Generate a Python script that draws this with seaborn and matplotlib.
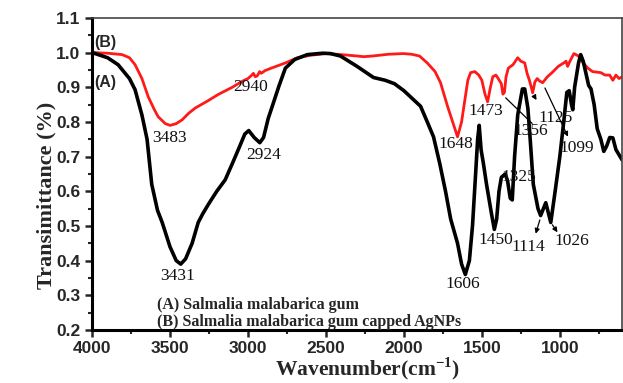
import numpy as np
import pandas as pd
import matplotlib
matplotlib.use("Agg")
import matplotlib.pyplot as plt
import seaborn as sns
from matplotlib.ticker import MultipleLocator

# ---- data ----
wn_a = [4000, 3900, 3833, 3760, 3724, 3680, 3647, 3617, 3580, 3550, 3500, 3460, 3431, 3400,
        3358, 3319, 3290, 3250, 3200, 3146, 3100, 3062, 3020, 2995, 2960, 2924, 2900, 2870,
        2844, 2800, 2760, 2700, 2619, 2520, 2471, 2407, 2300, 2195, 2120, 2060, 2000, 1938,
        1893, 1850, 1810, 1770, 1733, 1700, 1656, 1630, 1606, 1580, 1560, 1540, 1527, 1517,
        1505, 1490, 1470, 1440, 1420, 1405, 1390, 1375, 1350, 1335, 1318, 1305, 1290, 1270,
        1240, 1225, 1205, 1190, 1170, 1140, 1123, 1090, 1058, 1030, 1000, 975, 955, 940, 925,
        917, 905, 880, 866, 850, 830, 815, 800, 780, 760, 737, 718, 700, 680, 660, 640, 600]
tr_a = [1.0, 0.985, 0.965, 0.925, 0.893, 0.82, 0.75, 0.62, 0.545, 0.51, 0.44, 0.40, 0.39, 0.405,
        0.45, 0.51, 0.535, 0.565, 0.60, 0.633, 0.68, 0.72, 0.765, 0.775, 0.755, 0.74, 0.755, 0.81,
        0.845, 0.905, 0.955, 0.98, 0.994, 0.998, 0.997, 0.99, 0.96, 0.928, 0.92, 0.91, 0.89, 0.864,
        0.845, 0.80, 0.757, 0.68, 0.60, 0.52, 0.45, 0.39, 0.36, 0.40, 0.50, 0.65, 0.75, 0.79,
        0.72, 0.68, 0.62, 0.54, 0.49, 0.52, 0.60, 0.64, 0.65, 0.63, 0.58, 0.575, 0.70, 0.82,
        0.895, 0.895, 0.84, 0.75, 0.62, 0.55, 0.53, 0.567, 0.51, 0.60, 0.70, 0.80, 0.885, 0.89, 0.85,
        0.835, 0.90, 0.97, 0.994, 0.975, 0.935, 0.905, 0.895, 0.85, 0.78, 0.75, 0.715, 0.73, 0.755, 0.754, 0.72, 0.69]

wn_b = [4000, 3900, 3807, 3760, 3724, 3680, 3640, 3600, 3576, 3530, 3499, 3460, 3422, 3380,
        3338, 3260, 3191, 3100, 3037, 3000, 2975, 2965, 2953, 2940, 2925, 2915, 2890, 2850,
        2760, 2683, 2600, 2500, 2400, 2300, 2259, 2200, 2100, 2003, 1950, 1900, 1850, 1800,
        1765, 1720, 1680, 1656, 1630, 1610, 1590, 1572, 1545, 1520, 1500, 1480, 1463, 1445,
        1430, 1410, 1395, 1375, 1365, 1355, 1345, 1330, 1300, 1270, 1250, 1225, 1210, 1195,
        1180, 1174, 1160, 1145, 1130, 1110, 1080, 1050, 1010, 975, 960, 950, 935, 910, 880,
        850, 820, 790, 737, 710, 680, 660, 640, 620, 600]
tr_b = [1.0, 0.998, 0.994, 0.985, 0.965, 0.925, 0.873, 0.835, 0.815, 0.795, 0.79, 0.795, 0.806, 0.825,
        0.84, 0.86, 0.879, 0.90, 0.917, 0.925, 0.935, 0.94, 0.93, 0.933, 0.945, 0.94, 0.948, 0.955,
        0.97, 0.985, 0.992, 0.997, 0.994, 0.99, 0.988, 0.99, 0.995, 0.997, 0.995, 0.99, 0.97, 0.945,
        0.913, 0.845, 0.79, 0.757, 0.80, 0.86, 0.92, 0.942, 0.945, 0.935, 0.92, 0.88, 0.858, 0.90,
        0.93, 0.935, 0.925, 0.91, 0.88, 0.885, 0.93, 0.955, 0.965, 0.985, 0.975, 0.97, 0.94, 0.92,
        0.895, 0.884, 0.915, 0.925, 0.918, 0.913, 0.93, 0.942, 0.96, 0.97, 0.975, 0.96, 0.975, 0.997, 0.99,
        0.97, 0.955, 0.945, 0.942, 0.935, 0.935, 0.92, 0.935, 0.925, 0.93]

x_ticks = [4000, 3500, 3000, 2500, 2000, 1500, 1000]
y_ticks = [0.2, 0.3, 0.4, 0.5, 0.6, 0.7, 0.8, 0.9, 1.0, 1.1]

# peak labels: (text, x, y)
labels_a = [("3431", 3454, 0.355), ("2924", 2900, 0.705), ("1606", 1624, 0.333),
            ("1450", 1412, 0.46), ("1325", 1264, 0.64), ("1114", 1200, 0.44), ("1026", 923, 0.457)]
labels_b = [("3483", 3500, 0.755), ("2940", 2985, 0.90), ("1648", 1669, 0.737),
            ("1473", 1475, 0.832), ("1356", 1187, 0.775), ("1125", 1026, 0.81), ("1099", 892, 0.725)]

legend_lines = ["(A) Salmalia malabarica gum", "(B) Salmalia malabarica gum capped AgNPs"]

# ---- plot ----
sns.set_style("white")
plt.rcParams['font.family'] = ['Liberation Serif', 'DejaVu Serif']
plt.rcParams['mathtext.fontset'] = 'custom'
plt.rcParams['mathtext.bf'] = 'Liberation Serif:bold'
plt.rcParams['mathtext.rm'] = 'Liberation Serif'

fig = plt.figure(figsize=(6.23, 3.83), dpi=100)
ax = fig.add_axes([0.1477, 0.1384, 0.851, 0.815])

df_a = pd.DataFrame({"wn": wn_a, "T": tr_a})
df_b = pd.DataFrame({"wn": wn_b, "T": tr_b})
sns.lineplot(data=df_b, x="wn", y="T", sort=False, estimator=None, color="#ff1a1a", lw=2.0, ax=ax)
sns.lineplot(data=df_a, x="wn", y="T", sort=False, estimator=None, color="black", lw=2.6, ax=ax)

ax.set_xlim(4000, 600)
ax.set_ylim(0.2, 1.1)
ax.set_xticks(x_ticks)
ax.set_yticks(y_ticks)
ax.set_xticklabels([str(t) for t in x_ticks])
ax.set_yticklabels([f"{t:.1f}" for t in y_ticks])
ax.xaxis.set_minor_locator(MultipleLocator(250))
ax.yaxis.set_minor_locator(MultipleLocator(0.05))
ax.tick_params(axis="both", which="major", direction="out", length=5, width=1.8,
               bottom=True, left=True, top=False, right=False)
ax.tick_params(axis="x", which="major", pad=3)
ax.tick_params(axis="both", which="minor", direction="out", length=3, width=1.5,
               bottom=True, left=True, top=False, right=False)
for lab in ax.get_xticklabels() + ax.get_yticklabels():
    lab.set_fontfamily("Liberation Sans")
    lab.set_fontweight("bold")
    lab.set_fontsize(12.5)

for s in ["left", "bottom"]:
    ax.spines[s].set_linewidth(2.2)
    ax.spines[s].set_color("black")
for s in ["top", "right"]:
    ax.spines[s].set_linewidth(1.2)
    ax.spines[s].set_color("#444444")

ax.set_xlabel(r"Wavenumber(cm$^{\mathbf{-1}}$)", fontsize=15.5, fontweight="bold")
ax.xaxis.set_label_coords(0.52, -0.166)
ax.xaxis.label.set_va("bottom")
ax.set_ylabel("Transimittance (%)", fontsize=16, fontweight="bold")
ax.yaxis.set_label_coords(-0.085, 0.43)
ax.yaxis.label.set_va("center")

for t, x, y in labels_a + labels_b:
    ax.text(x, y, t, fontsize=12.5, ha="center", va="center", color="#111111")

ax.text(3985, 1.03, "(B)", fontsize=11.5, fontweight="bold", family="Liberation Sans", ha="left", va="center")
ax.text(3985, 0.915, "(A)", fontsize=11.5, fontweight="bold", family="Liberation Sans", ha="left", va="center")

ax.text(3583, 0.272, legend_lines[0], fontsize=11.5, fontweight="bold", ha="left", va="center")
ax.text(3583, 0.224, legend_lines[1], fontsize=11.5, fontweight="bold", ha="left", va="center")

# thin arrows
arrow_kw = dict(arrowstyle="-|>", color="black", lw=0.9, mutation_scale=7)
ax.annotate("", xy=(1165, 0.79), xytext=(1360, 0.875), arrowprops=dict(arrowstyle="-", color="black", lw=0.9))
ax.annotate("", xy=(1140, 0.856), xytext=(1172, 0.88), arrowprops=arrow_kw)
ax.annotate("", xy=(940, 0.75), xytext=(1103, 0.905), arrowprops=arrow_kw)
ax.annotate("", xy=(1160, 0.47), xytext=(1123, 0.525), arrowprops=arrow_kw)
ax.annotate("", xy=(1005, 0.475), xytext=(1058, 0.51), arrowprops=arrow_kw)

fig.savefig("out.png", dpi=100)
